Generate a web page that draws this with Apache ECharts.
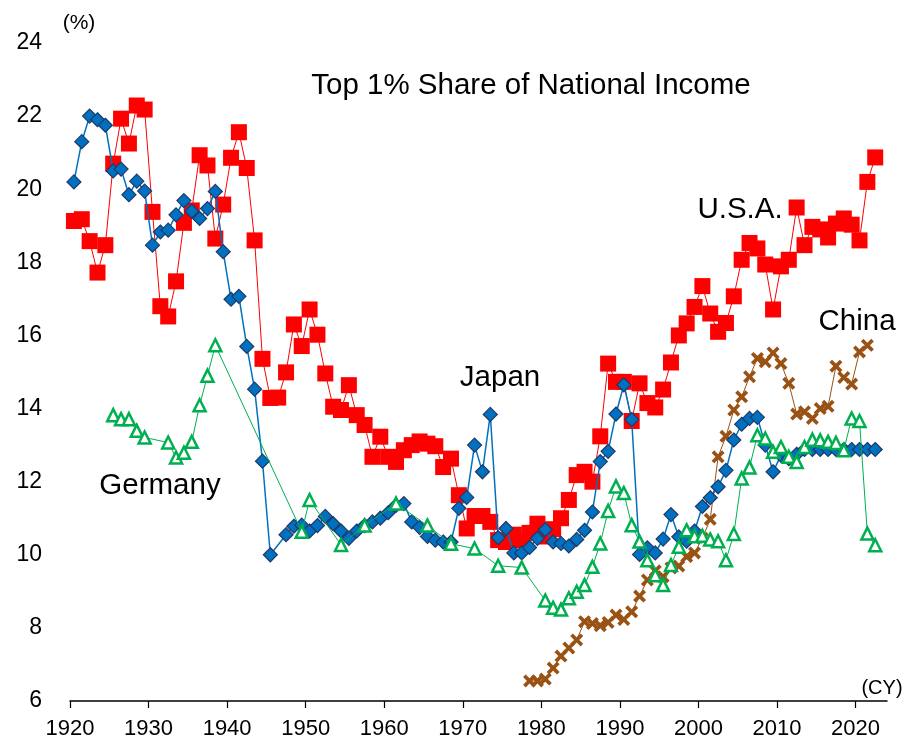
<!DOCTYPE html>
<html>
<head>
<meta charset="utf-8">
<script src="https://cdn.jsdelivr.net/npm/echarts@6/dist/echarts.min.js"></script>
<style>
  html, body { margin: 0; padding: 0; background: #ffffff; }
  #chart { width: 905px; height: 740px; }
</style>
</head>
<body>
<div id="chart"></div>
<script>
// Top 1% share of national income (%), by calendar year
function range(a, b) { const r = []; for (let y = a; y <= b; y++) r.push(y); return r; }

const xTicks = [1920, 1930, 1940, 1950, 1960, 1970, 1980, 1990, 2000, 2010, 2020];
const yTicks = [6, 8, 10, 12, 14, 16, 18, 20, 22, 24];

const usaYears = range(1920, 2022);
const usaValues = [
  19.13, 19.18, 18.58, 17.72, 18.47, 20.70, 21.93, 21.25, 22.29, 22.18,
  19.38, 16.80, 16.52, 17.48, 19.08, 19.42, 20.93, 20.65, 18.65, 19.58,
  20.86, 21.56, 20.58, 18.60, 15.36, 14.29, 14.30, 14.99, 16.30, 15.71,
  16.71, 16.02, 14.96, 14.05, 13.96, 14.64, 13.82, 13.55, 12.68, 13.23,
  12.68, 12.54, 12.86, 13.00, 13.10, 13.04, 12.97, 12.40, 12.63, 11.63,
  10.72, 11.06, 11.06, 10.90, 10.40, 10.35, 10.55, 10.40, 10.60, 10.85,
  10.50, 10.70, 11.00, 11.50, 12.18, 12.27, 12.00, 13.24, 15.23, 14.73,
  14.73, 13.66, 14.69, 14.15, 14.03, 14.52, 15.26, 16.00, 16.33, 16.78,
  17.35, 16.60, 16.10, 16.34, 17.07, 18.07, 18.53, 18.38, 17.94, 16.71,
  17.89, 18.07, 19.50, 18.47, 18.97, 18.90, 18.68, 19.06, 19.20, 19.03,
  18.60, 20.20, 20.87
];

const japanYears = range(1920, 1945).concat(range(1947, 2022));
const japanValues = [
  20.20, 21.30, 22.00, 21.90, 21.75, 20.50, 20.55, 19.85, 20.22, 19.95,
  18.47, 18.83, 18.88, 19.30, 19.69, 19.40, 19.20, 19.47, 19.94, 18.29,
  16.99, 17.07, 15.70, 14.53, 12.56, 10.00,
  10.55, 10.78, 10.81,
  10.65, 10.80, 11.05, 10.85, 10.65, 10.45, 10.65, 10.80, 10.90, 11.00,
  11.15, 11.35, 11.40, 10.90, 10.75, 10.50, 10.40, 10.35, 10.35, 11.27,
  11.57, 13.00, 12.27, 13.84, 10.47, 10.72, 10.05, 10.05, 10.20, 10.45,
  10.69, 10.35, 10.31, 10.24, 10.42, 10.67, 11.17, 12.55, 12.83, 13.85,
  14.65, 13.70, 10.01, 10.19, 10.05, 10.43, 11.10, 10.49, 10.37, 10.65,
  11.32, 11.56, 11.86, 12.31, 13.14, 13.57, 13.73, 13.76, 13.00, 12.27,
  12.72, 12.63, 12.75, 12.88, 12.88, 12.88, 12.88, 12.88, 12.88, 12.88,
  12.88, 12.88, 12.88
];

const germanyYears = [
  1925, 1926, 1927, 1928, 1929, 1932, 1933, 1934, 1935, 1936, 1937, 1938,
  1949, 1950, 1954, 1957, 1961, 1965, 1968, 1971, 1974, 1977
].concat(range(1980, 2022));
const germanyValues = [
  13.82, 13.71, 13.71, 13.39, 13.21, 13.07, 12.66, 12.79, 13.09, 14.09, 14.90, 15.73,
  10.63, 11.50, 10.27, 10.80, 11.40, 10.80, 10.30, 10.17, 9.70, 9.65,
  8.75, 8.55, 8.50, 8.81, 8.99, 9.17, 9.67, 10.31, 11.20, 11.87,
  11.69, 10.81, 10.36, 9.85, 9.44, 9.17, 9.72, 10.22, 10.67, 10.51,
  10.52, 10.42, 10.37, 9.85, 10.57, 12.09, 12.39, 13.27, 13.18, 12.82,
  12.95, 12.68, 12.54, 12.95, 13.15, 13.13, 13.09, 13.06, 12.86, 13.73,
  13.66, 10.58, 10.26
];

const chinaYears = range(1978, 2021);
const chinaValues = [
  6.55, 6.55, 6.60, 6.90, 7.23, 7.45, 7.67, 8.17, 8.12, 8.06,
  8.15, 8.35, 8.23, 8.44, 8.87, 9.31, 9.56, 9.40, 9.64, 9.69,
  9.95, 10.05, 10.45, 10.97, 12.68, 13.24, 13.96, 14.32, 14.87, 15.37,
  15.28, 15.52, 15.23, 14.69, 13.85, 13.91, 13.73, 14.00, 14.06, 15.16,
  14.85, 14.67, 15.55, 15.73
];

// annual figures are plotted at the middle of their year
function pairs(years, values) {
  return years.map((y, i) => [y + 0.5, values[i]]);
}

const FONT = '"Liberation Sans", Arial, sans-serif';
const crossPath = 'path://M0,2 L2,0 L5,3 L8,0 L10,2 L7,5 L10,8 L8,10 L5,7 L2,10 L0,8 L3,5 Z';

const chart = echarts.init(document.getElementById('chart'), null, { renderer: 'canvas' });

chart.setOption({
  animation: false,
  backgroundColor: '#ffffff',
  grid: { left: 70, right: 18, top: 43, bottom: 39, containLabel: false },
  xAxis: {
    type: 'value',
    min: 1920,
    max: 2024,
    interval: 10,
    axisLine: { show: true, lineStyle: { color: '#000000', width: 1.5 } },
    axisTick: { show: true, inside: false, length: 7, customValues: xTicks, lineStyle: { color: '#000000', width: 1.2 } },
    axisLabel: {
      customValues: xTicks,
      formatter: (v) => String(v),
      color: '#000000', fontSize: 22, fontFamily: FONT, margin: 17
    },
    splitLine: { show: false }
  },
  yAxis: {
    type: 'value',
    min: yTicks[0],
    max: yTicks[yTicks.length - 1],
    interval: 2,
    axisLine: { show: false },
    axisTick: { show: false },
    axisLabel: { color: '#000000', fontSize: 23, fontFamily: FONT, margin: 28 },
    splitLine: { show: false }
  },
  series: [
    {
      name: 'U.S.A.',
      type: 'line',
      z: 2,
      data: pairs(usaYears, usaValues),
      symbol: 'rect',
      symbolSize: 16,
      lineStyle: { color: '#FF0000', width: 1 },
      itemStyle: { color: '#FF0000', borderColor: '#FF0000', borderWidth: 0 }
    },
    {
      name: 'China',
      type: 'line',
      z: 3,
      data: pairs(chinaYears, chinaValues),
      symbol: crossPath,
      symbolSize: 13,
      lineStyle: { color: '#9A5214', width: 1 },
      itemStyle: { color: '#9A5214', borderWidth: 0 }
    },
    {
      name: 'Japan',
      type: 'line',
      z: 4,
      data: pairs(japanYears, japanValues),
      symbol: 'diamond',
      symbolSize: 14,
      lineStyle: { color: '#0070C0', width: 1.5 },
      itemStyle: { color: '#0070C0', borderColor: '#1F3A68', borderWidth: 1.2 }
    },
    {
      name: 'Germany',
      type: 'line',
      z: 5,
      data: pairs(germanyYears, germanyValues),
      symbol: 'triangle',
      symbolSize: 12,
      lineStyle: { color: '#00B050', width: 1 },
      itemStyle: { color: '#ffffff', borderColor: '#00B050', borderWidth: 2.5 }
    }
  ],
  graphic: [
    { type: 'text', x: 79, y: 23, style: { text: '(%)', font: '21px ' + FONT, fill: '#000000', align: 'center', verticalAlign: 'middle' } },
    { type: 'text', x: 531, y: 86, style: { text: 'Top 1% Share of National Income', font: '29.5px ' + FONT, fill: '#000000', align: 'center', verticalAlign: 'middle' } },
    { type: 'text', x: 740, y: 210, style: { text: 'U.S.A.', font: '29.5px ' + FONT, fill: '#000000', align: 'center', verticalAlign: 'middle' } },
    { type: 'text', x: 857, y: 322, style: { text: 'China', font: '29.5px ' + FONT, fill: '#000000', align: 'center', verticalAlign: 'middle' } },
    { type: 'text', x: 500, y: 378, style: { text: 'Japan', font: '29.5px ' + FONT, fill: '#000000', align: 'center', verticalAlign: 'middle' } },
    { type: 'text', x: 160, y: 486, style: { text: 'Germany', font: '29.5px ' + FONT, fill: '#000000', align: 'center', verticalAlign: 'middle' } },
    { type: 'text', x: 882, y: 688, style: { text: '(CY)', font: '20px ' + FONT, fill: '#000000', align: 'center', verticalAlign: 'middle' } }
  ]
});
</script>
</body>
</html>
